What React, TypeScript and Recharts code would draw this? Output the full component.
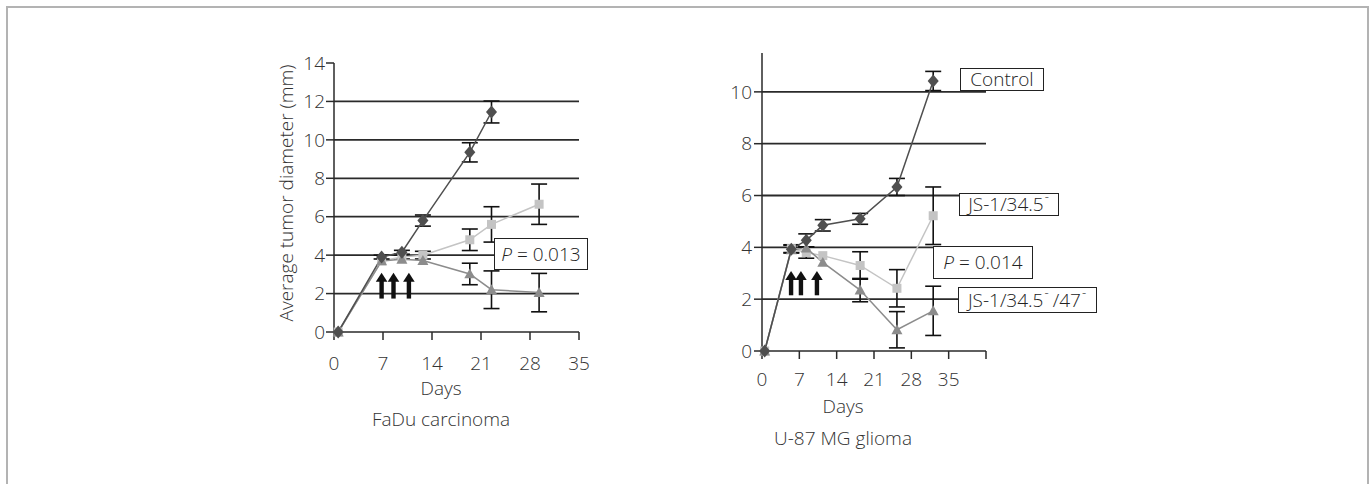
import React from 'react';
import { LineChart, Line, XAxis, YAxis, ReferenceLine, ErrorBar } from 'recharts';

// ---- Left panel: FaDu carcinoma ----
const leftDays = [0.6, 6.8, 9.7, 12.7, 19.4, 22.5, 29.3];
const leftControl = [0, 3.9, 4.15, 5.8, 9.35, 11.45, null];
const leftControlErr = [0, 0.1, 0.1, 0.29, 0.5, 0.57, null];
const leftJs = [0, 3.7, 3.9, 4.0, 4.8, 5.6, 6.65];
const leftJsErr = [0, 0, 0.1, 0.2, 0.56, 0.92, 1.05];
const leftJs47 = [0, 3.7, 3.78, 3.72, 3.02, 2.2, 2.05];
const leftJs47Err = [0, 0, 0, 0, 0.56, 0.98, 1.0];
const leftXTicks = [0, 7, 14, 21, 28, 35];
const leftYTicks = [0, 2, 4, 6, 8, 10, 12, 14];
const leftGrid = [2, 4, 6, 8, 10, 12];
const leftArrowDays = [6.8, 8.5, 10.7];
const leftArrowRange = [1.74, 3.08];

// ---- Right panel: U-87 MG glioma ----
const rightDays = [0.5, 5.5, 8.3, 11.4, 18.4, 25.3, 32.1];
const rightControl = [0, 3.93, 4.27, 4.85, 5.1, 6.33, 10.42];
const rightControlErr = [0, 0.15, 0.25, 0.22, 0.21, 0.33, 0.37];
const rightJs = [0, 3.95, 3.8, 3.68, 3.3, 2.42, 5.22];
const rightJsErr = [0, 0.15, 0.22, 0, 0.53, 0.72, 1.11];
const rightJs47 = [0, 3.9, 3.97, 3.42, 2.35, 0.82, 1.55];
const rightJs47Err = [0, 0, 0, 0, 0.45, 0.7, 0.95];
const rightXTicks = [0, 7, 14, 21, 28, 35, 42];
const rightXTickLabels = ['0', '7', '14', '21', '28', '35', ''];
const rightYTicks = [0, 2, 4, 6, 8, 10];
const rightGrid = [2, 4, 6, 8, 10];
const rightArrowDays = [5.45, 7.3, 10.3];
const rightArrowRange = [2.15, 3.09];

const build = (days: number[], c: any[], ce: any[], j: any[], je: any[], k: any[], ke: any[]) =>
  days.map((d, i) => ({ day: d, ctrl: c[i], ctrlErr: ce[i], js: j[i], jsErr: je[i], js47: k[i], js47Err: ke[i] }));

const leftData = build(leftDays, leftControl, leftControlErr, leftJs, leftJsErr, leftJs47, leftJs47Err);
const rightData = build(rightDays, rightControl, rightControlErr, rightJs, rightJsErr, rightJs47, rightJs47Err);

const FONT = '"Open Sans", "DejaVu Sans", sans-serif';
const INK = '#2a2a2a';
const C_CTRL = '#4f4f4f';
const C_JS = '#c4c4c4';
const C_JS47 = '#8c8c8c';

const Diamond = (props: any) => {
  const { cx, cy, index } = props;
  if (cx == null || cy == null || isNaN(cy)) return <g key={`d${index}`} />;
  const r = 6.5;
  return <path key={`d${index}`} d={`M${cx},${cy - r}L${cx + r * 0.85},${cy}L${cx},${cy + r}L${cx - r * 0.85},${cy}Z`} fill={C_CTRL} />;
};
const Square = (props: any) => {
  const { cx, cy, index } = props;
  if (cx == null || cy == null || isNaN(cy)) return <g key={`s${index}`} />;
  const r = 4.5;
  return <rect key={`s${index}`} x={cx - r} y={cy - r} width={2 * r} height={2 * r} fill={C_JS} />;
};
const Triangle = (props: any) => {
  const { cx, cy, index } = props;
  if (cx == null || cy == null || isNaN(cy)) return <g key={`t${index}`} />;
  const r = 5.5;
  return <path key={`t${index}`} d={`M${cx},${cy - r}L${cx + r},${cy + r * 0.8}L${cx - r},${cy + r * 0.8}Z`} fill={C_JS47} />;
};

const Arrow = (props: any) => {
  const { x1, y1, x2, y2 } = props;
  const x = (x1 + x2) / 2;
  const base = Math.max(y1, y2);
  const tip = Math.min(y1, y2);
  const head = 9;
  return (
    <g>
      <rect x={x - 2.2} y={tip + head - 1} width={4.4} height={base - tip - head + 1} fill="#111" />
      <path d={`M${x},${tip}L${x + 5.8},${tip + head}L${x - 5.8},${tip + head}Z`} fill="#111" />
    </g>
  );
};

const tickStyle = { fontSize: 19, fill: '#333', stroke: 'none', fontFamily: FONT, fontWeight: 300 };

const errProps = { width: 8, strokeWidth: 1.6, stroke: '#111', direction: 'y' as const };

const boxStyle = (left: number, top: number, w: number, h: number, fs = 19): React.CSSProperties => ({
  position: 'absolute',
  left,
  top,
  width: w,
  height: h,
  boxSizing: 'border-box',
  border: '1.5px solid #222',
  background: '#fff',
  fontFamily: FONT,
  fontWeight: 300,
  fontSize: fs,
  color: '#222',
  display: 'flex',
  alignItems: 'center',
  justifyContent: 'center',
  whiteSpace: 'nowrap',
  lineHeight: 1,
});

const textStyle = (left: number, top: number, w: number): React.CSSProperties => ({
  position: 'absolute',
  left,
  top,
  width: w,
  textAlign: 'center',
  fontFamily: FONT,
  fontWeight: 300,
  fontSize: 19,
  color: '#333',
  lineHeight: '20px',
  whiteSpace: 'nowrap',
});

const supStyle: React.CSSProperties = { fontSize: 13, position: 'relative', top: -8, marginLeft: 1, marginRight: 1 };

export default function App() {
  return (
    <div style={{ position: 'absolute', left: 0, top: 0, width: 1371, height: 484, background: '#fff', overflow: 'hidden' }}>
      <div style={{ position: 'absolute', left: 6, top: 6, width: 1359, height: 500, borderTop: '2px solid #b3b3b3', borderLeft: '2px solid #b3b3b3', borderRight: '2px solid #b3b3b3' }} />

      {/* Left panel */}
      <div style={{ position: 'absolute', left: 250, top: 40 }}>
        <LineChart width={360} height={342} data={leftData} margin={{ top: 23, right: 31, bottom: 0, left: 0 }}>
          {leftGrid.map((g) => (
            <ReferenceLine key={g} y={g} stroke={INK} strokeWidth={1.8} />
          ))}
          <XAxis type="number" dataKey="day" domain={[0, 35]} ticks={leftXTicks} height={50} tickSize={8} tickMargin={17}
            stroke={INK} strokeWidth={1.5} tick={tickStyle} interval={0} allowDecimals={false} />
          <YAxis type="number" domain={[0, 14]} ticks={leftYTicks} width={84} tickSize={8} tickMargin={1}
            stroke={INK} strokeWidth={1.5} tick={tickStyle} interval={0} />
          <Line dataKey="js" stroke={C_JS} strokeWidth={1.5} dot={Square} isAnimationActive={false}>
            <ErrorBar dataKey="jsErr" {...errProps} />
          </Line>
          <Line dataKey="js47" stroke={C_JS47} strokeWidth={1.5} dot={Triangle} isAnimationActive={false}>
            <ErrorBar dataKey="js47Err" {...errProps} />
          </Line>
          <Line dataKey="ctrl" stroke={C_CTRL} strokeWidth={1.5} dot={Diamond} isAnimationActive={false}>
            <ErrorBar dataKey="ctrlErr" {...errProps} />
          </Line>
          {leftArrowDays.map((d) => (
            <ReferenceLine key={`a${d}`} segment={[{ x: d, y: leftArrowRange[0] }, { x: d, y: leftArrowRange[1] }]} shape={Arrow} />
          ))}
        </LineChart>
      </div>
      <div style={{ ...textStyle(136, 183, 300), height: 20, transform: 'rotate(-90deg)', transformOrigin: '150px 10px' }}>
        Average tumor diameter (mm)
      </div>
      <div style={textStyle(391, 378, 100)}>Days</div>
      <div style={textStyle(341, 409, 200)}>FaDu carcinoma</div>
      <div style={boxStyle(494, 238, 94, 32, 19)}>
        <span style={{ fontStyle: 'italic' }}>P</span>&nbsp;= 0.013
      </div>

      {/* Right panel */}
      <div style={{ position: 'absolute', left: 680, top: 40 }}>
        <LineChart width={326} height={358} data={rightData} margin={{ top: 13, right: 20, bottom: 0, left: 0 }}>
          {rightGrid.map((g) => (
            <ReferenceLine key={g} y={g} stroke={INK} strokeWidth={1.8} />
          ))}
          <XAxis type="number" dataKey="day" domain={[0, 42]} ticks={rightXTicks} height={47} tickSize={8} tickMargin={14}
            stroke={INK} strokeWidth={1.5} tick={tickStyle} interval={0}
            tickFormatter={(v: number) => rightXTickLabels[rightXTicks.indexOf(v)]} />
          <YAxis type="number" domain={[0, 11.5]} ticks={rightYTicks} width={82} tickSize={8} tickMargin={2}
            stroke={INK} strokeWidth={1.5} tick={tickStyle} interval={0} />
          <Line dataKey="js" stroke={C_JS} strokeWidth={1.5} dot={Square} isAnimationActive={false}>
            <ErrorBar dataKey="jsErr" {...errProps} />
          </Line>
          <Line dataKey="js47" stroke={C_JS47} strokeWidth={1.5} dot={Triangle} isAnimationActive={false}>
            <ErrorBar dataKey="js47Err" {...errProps} />
          </Line>
          <Line dataKey="ctrl" stroke={C_CTRL} strokeWidth={1.5} dot={Diamond} isAnimationActive={false}>
            <ErrorBar dataKey="ctrlErr" {...errProps} />
          </Line>
          {rightArrowDays.map((d) => (
            <ReferenceLine key={`a${d}`} segment={[{ x: d, y: rightArrowRange[0] }, { x: d, y: rightArrowRange[1] }]} shape={Arrow} />
          ))}
        </LineChart>
      </div>
      <div style={textStyle(793, 396, 100)}>Days</div>
      <div style={textStyle(743, 428, 200)}>U-87 MG glioma</div>
      <div style={boxStyle(960, 68, 84, 23)}>Control</div>
      <div style={boxStyle(959, 193, 100, 23)}>
        JS-1/34.5<span style={supStyle}>-</span>
      </div>
      <div style={boxStyle(933, 246, 100, 33, 19)}>
        <span style={{ fontStyle: 'italic' }}>P</span>&nbsp;= 0.014
      </div>
      <div style={boxStyle(958, 287, 139, 26)}>
        JS-1/34.5<span style={supStyle}>-</span>&thinsp;/47<span style={supStyle}>-</span>
      </div>
    </div>
  );
}
